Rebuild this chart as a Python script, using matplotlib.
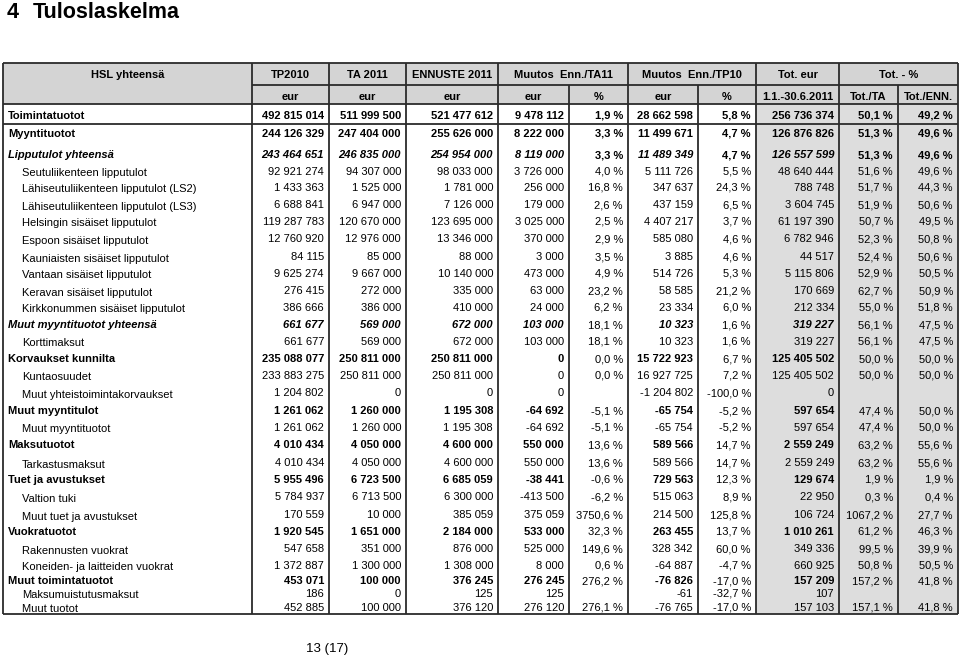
import matplotlib.pyplot as plt
from matplotlib.patches import Rectangle

plt.rcParams['font.family'] = ['Liberation Sans', 'DejaVu Sans']

# ---- data ----
row_labels = [
    "Toimintatuotot", "Myyntituotot", "Lipputulot yhteensä",
    "Seutuliikenteen lipputulot", "Lähiseutuliikenteen lipputulot (LS2)",
    "Lähiseutuliikenteen lipputulot (LS3)", "Helsingin sisäiset lipputulot",
    "Espoon sisäiset lipputulot", "Kauniaisten sisäiset lipputulot",
    "Vantaan sisäiset lipputulot", "Keravan sisäiset lipputulot",
    "Kirkkonummen sisäiset lipputulot", "Muut myyntituotot yhteensä",
    "Korttimaksut", "Korvaukset kunnilta", "Kuntaosuudet",
    "Muut yhteistoimintakorvaukset", "Muut myyntitulot", "Muut myyntituotot",
    "Maksutuotot", "Tarkastusmaksut", "Tuet ja avustukset", "Valtion tuki",
    "Muut tuet ja avustukset", "Vuokratuotot", "Rakennusten vuokrat",
    "Koneiden- ja laitteiden vuokrat", "Muut toimintatuotot",
    "Maksumuistutusmaksut", "Muut tuotot",
]
tp2010 = [492815014, 244126329, 243464651, 92921274, 1433363, 6688841,
          119287783, 12760920, 84115, 9625274, 276415, 386666, 661677, 661677,
          235088077, 233883275, 1204802, 1261062, 1261062, 4010434, 4010434,
          5955496, 5784937, 170559, 1920545, 547658, 1372887, 453071, 186,
          452885]
ta2011 = [511999500, 247404000, 246835000, 94307000, 1525000, 6947000,
          120670000, 12976000, 85000, 9667000, 272000, 386000, 569000, 569000,
          250811000, 250811000, 0, 1260000, 1260000, 4050000, 4050000,
          6723500, 6713500, 10000, 1651000, 351000, 1300000, 100000, 0,
          100000]
ennuste2011 = [521477612, 255626000, 254954000, 98033000, 1781000, 7126000,
               123695000, 13346000, 88000, 10140000, 335000, 410000, 672000,
               672000, 250811000, 250811000, 0, 1195308, 1195308, 4600000,
               4600000, 6685059, 6300000, 385059, 2184000, 876000, 1308000,
               376245, 125, 376120]
muutos_ta_eur = [9478112, 8222000, 8119000, 3726000, 256000, 179000, 3025000,
                 370000, 3000, 473000, 63000, 24000, 103000, 103000, 0, 0, 0,
                 -64692, -64692, 550000, 550000, -38441, -413500, 375059,
                 533000, 525000, 8000, 276245, 125, 276120]
muutos_ta_pct = [1.9, 3.3, 3.3, 4.0, 16.8, 2.6, 2.5, 2.9, 3.5, 4.9, 23.2, 6.2,
                 18.1, 18.1, 0.0, 0.0, None, -5.1, -5.1, 13.6, 13.6, -0.6,
                 -6.2, 3750.6, 32.3, 149.6, 0.6, 276.2, None, 276.1]
muutos_tp_eur = [28662598, 11499671, 11489349, 5111726, 347637, 437159,
                 4407217, 585080, 3885, 514726, 58585, 23334, 10323, 10323,
                 15722923, 16927725, -1204802, -65754, -65754, 589566, 589566,
                 729563, 515063, 214500, 263455, 328342, -64887, -76826, -61,
                 -76765]
muutos_tp_pct = [5.8, 4.7, 4.7, 5.5, 24.3, 6.5, 3.7, 4.6, 4.6, 5.3, 21.2, 6.0,
                 1.6, 1.6, 6.7, 7.2, -100.0, -5.2, -5.2, 14.7, 14.7, 12.3, 8.9,
                 125.8, 13.7, 60.0, -4.7, -17.0, -32.7, -17.0]
tot_eur = [256736374, 126876826, 126557599, 48640444, 788748, 3604745,
           61197390, 6782946, 44517, 5115806, 170669, 212334, 319227, 319227,
           125405502, 125405502, 0, 597654, 597654, 2559249, 2559249, 129674,
           22950, 106724, 1010261, 349336, 660925, 157209, 107, 157103]
tot_ta_pct = [50.1, 51.3, 51.3, 51.6, 51.7, 51.9, 50.7, 52.3, 52.4, 52.9, 62.7,
              55.0, 56.1, 56.1, 50.0, 50.0, None, 47.4, 47.4, 63.2, 63.2, 1.9,
              0.3, 1067.2, 61.2, 99.5, 50.8, 157.2, None, 157.1]
tot_enn_pct = [49.2, 49.6, 49.6, 49.6, 44.3, 50.6, 49.5, 50.8, 50.6, 50.5,
               50.9, 51.8, 47.5, 47.5, 50.0, 50.0, None, 50.0, 50.0, 55.6, 55.6,
               1.9, 0.4, 27.7, 46.3, 39.9, 50.5, 41.8, None, 41.8]

header_top = ["TP2010", "TA 2011", "ENNUSTE 2011", "Muutos  Enn./TA11",
              "Muutos  Enn./TP10", "Tot. eur", "Tot. - %"]
header_sub = ["eur", "eur", "eur", "eur", "%", "eur", "%", "1.1.-30.6.2011",
              "Tot./TA", "Tot./ENN."]

# ---- layout / styles ----
row_style = ['b', 'b', 'bi', 'r', 'r', 'r', 'r', 'r', 'r', 'r', 'r', 'r', 'bi',
             'r', 'b', 'r', 'r', 'b', 'r', 'b', 'r', 'b', 'r', 'r', 'b', 'r',
             'r', 'b', 'r', 'r']
bold_pct_rows = {0, 1, 2}
row_y = [115, 133, 154, 171, 187, 204, 221, 238, 256, 273, 290, 307, 324, 341,
         358, 375, 392, 410, 427, 444, 462, 479, 496, 514, 531, 548, 565, 580,
         593, 607]
col_edges = [3, 252, 329, 406, 498, 569, 628, 698, 756, 839, 898, 958]
top_spans = [(1, 2), (2, 3), (3, 4), (4, 6), (6, 8), (8, 9), (9, 11)]
y_top, y_mid, y_head, y_first, y_bot = 63, 85, 104, 124, 614
FS = 8
BASE = 4.0   # centre -> baseline offset in px
LINE = '#2b2b2b'
HEAD_BG = '#d4d4d4'
TOT_BG = '#dddddd'


def fmt_eur(v):
    return "" if v is None else f"{v:,}".replace(",", " ")


def fmt_pct(v):
    return "" if v is None else f"{v:.1f}".replace(".", ",") + " %"


def cell(x, y, txt, ha='right', **kw):
    ax.text(x, y + BASE, txt, fontsize=FS, ha=ha, va='baseline', **kw)


fig = plt.figure(figsize=(9.6, 6.62), dpi=100)
ax = fig.add_axes([0, 0, 1, 1])
ax.set_xlim(0, 960)
ax.set_ylim(662, 0)
ax.axis('off')

# title and page number
ax.text(7, 17.5, "4", fontsize=15.5, fontweight='bold', va='baseline')
ax.text(33, 17.5, "Tuloslaskelma", fontsize=15.5, fontweight='bold', va='baseline')
ax.text(327, 652, "13 (17)", fontsize=9.5, ha='center', va='baseline')

# backgrounds
ax.add_patch(Rectangle((col_edges[0], y_top), col_edges[-1] - col_edges[0],
                       y_head - y_top, facecolor=HEAD_BG, edgecolor='none'))
ax.add_patch(Rectangle((col_edges[8], y_head), col_edges[-1] - col_edges[8],
                       y_bot - y_head, facecolor=TOT_BG, edgecolor='none'))

# grid lines
lw = 1.3
ax.hlines([y_top, y_head, y_first, y_bot], col_edges[0], col_edges[-1],
          color=LINE, lw=lw)
ax.hlines(y_mid, col_edges[1], col_edges[-1], color=LINE, lw=lw)
ax.vlines([col_edges[0], col_edges[-1]], y_top, y_bot, color=LINE, lw=lw)
ax.vlines(col_edges[1:-1], y_head, y_bot, color=LINE, lw=lw)
ax.vlines([col_edges[a] for a, _ in top_spans], y_top, y_mid, color=LINE, lw=lw)
ax.vlines(col_edges[1:-1], y_mid, y_head, color=LINE, lw=lw)

# header text
cell((col_edges[0] + col_edges[1]) / 2, 74.5, "HSL yhteensä", ha='center',
     fontweight='bold')
for (a, b), txt in zip(top_spans, header_top):
    cell((col_edges[a] + col_edges[b]) / 2, 74.5, txt, ha='center',
         fontweight='bold')
for i, txt in enumerate(header_sub):
    cell((col_edges[i + 1] + col_edges[i + 2]) / 2, 95.5, txt, ha='center',
         fontweight='bold')

# body
columns = [tp2010, ta2011, ennuste2011, muutos_ta_eur, muutos_ta_pct,
           muutos_tp_eur, muutos_tp_pct, tot_eur, tot_ta_pct, tot_enn_pct]
is_pct = [False, False, False, False, True, False, True, False, True, True]

for r, label in enumerate(row_labels):
    st = row_style[r]
    y = row_y[r]
    weight = 'bold' if 'b' in st else 'normal'
    style = 'italic' if 'i' in st else 'normal'
    if st == 'r':
        cell(22, y + 1.5, label, ha='left')
    else:
        cell(8, y, label, ha='left', fontweight=weight, fontstyle=style)
    for c, (vals, pct) in enumerate(zip(columns, is_pct)):
        txt = fmt_pct(vals[r]) if pct else fmt_eur(vals[r])
        if pct:
            w = 'bold' if r in bold_pct_rows else 'normal'
            s = 'normal'
        else:
            w, s = weight, style
        cell(col_edges[c + 2] - 5, y, txt, fontweight=w, fontstyle=s)

fig.savefig("out.png", dpi=100)
